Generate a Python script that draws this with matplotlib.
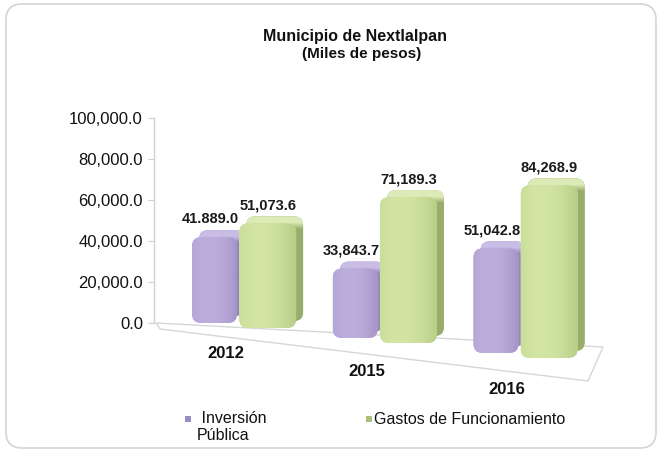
import matplotlib
matplotlib.use("Agg")
import matplotlib.pyplot as plt
import numpy as np
from matplotlib.patches import FancyBboxPatch, Polygon, Rectangle
import matplotlib.transforms as mtransforms
from matplotlib.colors import to_rgb

# ---------------- data ----------------
years = ["2012", "2015", "2016"]
inversion = [41889.0, 33843.7, 51042.8]
gastos = [51073.6, 71189.3, 84268.9]
inv_labels = ["41.889.0", "33,843.7", "51,042.8"]
gas_labels = ["51,073.6", "71,189.3", "84,268.9"]
yticks = [0, 20000, 40000, 60000, 80000, 100000]
ytick_labels = ["0.0", "20,000.0", "40,000.0", "60,000.0", "80,000.0", "100,000.0"]
series_names = [" Inversión\nPública", "Gastos de Funcionamiento"]
title_lines = ["Municipio de Nextlalpan", "(Miles de pesos)"]

plt.rcParams['font.family'] = ['Liberation Sans', 'DejaVu Sans']

W, H = 661, 451
DPI = 100
fig = plt.figure(figsize=(W / DPI, H / DPI), dpi=DPI)
fig.patch.set_facecolor("white")


def fx(px):
    return px / W


def fy(py):
    return 1 - py / H


# outer rounded frame (inches coords)
frame = FancyBboxPatch((6 / DPI, (H - 448) / DPI), 650 / DPI, 444 / DPI,
                       boxstyle="round,pad=0,rounding_size=0.16",
                       transform=fig.dpi_scale_trans, fc="white",
                       ec="#d4d4d4", lw=1.2, zorder=-5)
fig.patches.append(frame)

# title
fig.text(fx(355), fy(37), title_lines[0], ha="center", va="center",
         fontsize=11.5, fontweight="bold", color="#111111")
fig.text(fx(362), fy(54), title_lines[1], ha="center", va="center",
         fontsize=11, fontweight="bold", color="#111111")

# axes
y0_px, y1_px = 323, 118
ax = fig.add_axes([fx(154), fy(y0_px), (610 - 154) / W, (y0_px - y1_px) / H])
ax.patch.set_visible(False)
XMIN, XMAX = -0.64, 2.6
ax.set_xlim(XMIN, XMAX)
ax.set_ylim(0, 100000)
for s in ["top", "right", "bottom"]:
    ax.spines[s].set_visible(False)
ax.spines["left"].set_color("#d0d0d0")
ax.spines["left"].set_linewidth(1.0)
ax.set_xticks([])
ax.set_yticks(yticks, ytick_labels)
ax.tick_params(axis="y", length=4, color="#d0d0d0", labelsize=12, pad=4,
               labelcolor="#111111")

# floor (decoration) in figure coords
floor = Polygon([(fx(156), fy(323)), (fx(603), fy(347)), (fx(588), fy(381)),
                 (fx(160), fy(329))], closed=True, transform=fig.transFigure,
                fc="white", ec="#d6d6d6", lw=1.0, zorder=0.5, clip_on=False)
ax.add_patch(floor)

px_per_x = (610 - 154) / (XMAX - XMIN)
units_per_px_y = 100000 / (y0_px - y1_px)
ASP = px_per_x * units_per_px_y  # y-units equivalent of one x unit

group_shift_px = [0, 15, 30]
green_extra_px = 5
depth_px = 7


def tr_for(dy_px, dx_px=0.0):
    return mtransforms.offset_copy(ax.transData, fig=fig, x=dx_px * 72 / DPI,
                                   y=-dy_px * 72 / DPI, units="points")


def mix(c1, c2, t):
    a = np.array(to_rgb(c1))
    b = np.array(to_rgb(c2))
    return a * (1 - t) + b * t


def draw_bar(x0, w, h, shift, cols, z):
    front_c, edge_c, side_c, top_c = cols
    r = 0.065
    bs = f"round,pad=0,rounding_size={r}"
    # back (depth) box with top face highlight
    tr_b = tr_for(shift - depth_px, depth_px)
    back = FancyBboxPatch((x0, 0), w, h, boxstyle=bs, mutation_aspect=ASP,
                          transform=tr_b, fc=side_c, ec="none", zorder=z,
                          clip_on=False)
    ax.add_patch(back)
    nrow = 200
    ys = np.linspace(0, 1, nrow)
    band = depth_px * 1.8 * units_per_px_y / h
    img_b = np.zeros((nrow, 2, 3))
    for i, yy in enumerate(ys):
        t = np.clip((yy - (1 - band)) / (band * 0.5), 0, 1)
        img_b[i, :, :] = mix(side_c, top_c, t)
    im = ax.imshow(img_b, extent=(x0, x0 + w, 0, h), origin="lower",
                   aspect="auto", transform=tr_b, zorder=z + 0.1,
                   interpolation="bilinear")
    im.set_clip_box(fig.bbox)
    im.set_clip_path(back)
    # front face with horizontal gradient
    tr_f = tr_for(shift)
    front = FancyBboxPatch((x0, 0), w, h, boxstyle=bs, mutation_aspect=ASP,
                           transform=tr_f, fc=front_c, ec="none", zorder=z + 0.2,
                           clip_on=False)
    ax.add_patch(front)
    ncol = 60
    xs = np.linspace(0, 1, ncol)
    img_f = np.zeros((2, ncol, 3))
    for j, xx in enumerate(xs):
        t = min(1.0, abs(xx - 0.35) / 0.65) ** 2
        img_f[:, j, :] = mix(front_c, edge_c, t)
    im2 = ax.imshow(img_f, extent=(x0, x0 + w, 0, h), origin="lower",
                    aspect="auto", transform=tr_f, zorder=z + 0.3,
                    interpolation="bilinear")
    im2.set_clip_box(fig.bbox)
    im2.set_clip_path(front)
    return tr_f


purple = ("#bcaedc", "#a393c6", "#9385b8", "#c9bde6")
green = ("#d2e5a4", "#b7ce86", "#98ad6c", "#dcebb8")

for i, yr in enumerate(years):
    sh = group_shift_px[i]
    # purple bar
    px0, pw = i - 0.37, 0.32
    trp = draw_bar(px0, pw, inversion[i], sh, purple, 2 + i)
    ax.text(px0 + pw / 2 - 0.03, inversion[i], inv_labels[i],
            transform=mtransforms.offset_copy(trp, fig=fig, x=0,
                                              y=(depth_px + 4) * 72 / DPI,
                                              units="points"),
            ha="center", va="bottom", fontsize=10.5, fontweight="bold",
            color="#1a1a1a", zorder=10, clip_on=False)
    # green bar
    gx0, gw = i - 0.035, 0.405
    trg = draw_bar(gx0, gw, gastos[i], sh + green_extra_px, green, 2.5 + i)
    ax.text(gx0 + gw / 2, gastos[i], gas_labels[i],
            transform=mtransforms.offset_copy(trg, fig=fig, x=0,
                                              y=(depth_px + 4) * 72 / DPI,
                                              units="points"),
            ha="center", va="bottom", fontsize=10.5, fontweight="bold",
            color="#1a1a1a", zorder=10, clip_on=False)
    # year label
    ax.text(i - 0.13, 0, yr,
            transform=tr_for(31 + [0, 18, 35][i]),
            ha="center", va="center", fontsize=12, fontweight="bold",
            color="#111111", zorder=10, clip_on=False)

ax.set_xlim(XMIN, XMAX)
ax.set_ylim(0, 100000)

# legend (manual)
fig.patches.append(Rectangle((fx(185), fy(422)), fx(6), 6 / H,
                             transform=fig.transFigure, fc="#9a8cc2", ec="none"))
fig.text(fx(197), fy(411), series_names[0], ha="left", va="top",
         fontsize=11.5, color="#111111", linespacing=1.2)
fig.patches.append(Rectangle((fx(366), fy(422)), fx(6), 6 / H,
                             transform=fig.transFigure, fc="#a8c07a", ec="none"))
fig.text(fx(374), fy(419), series_names[1], ha="left", va="center",
         fontsize=11.5, color="#111111")

fig.savefig("out.png", dpi=DPI, facecolor="white")
